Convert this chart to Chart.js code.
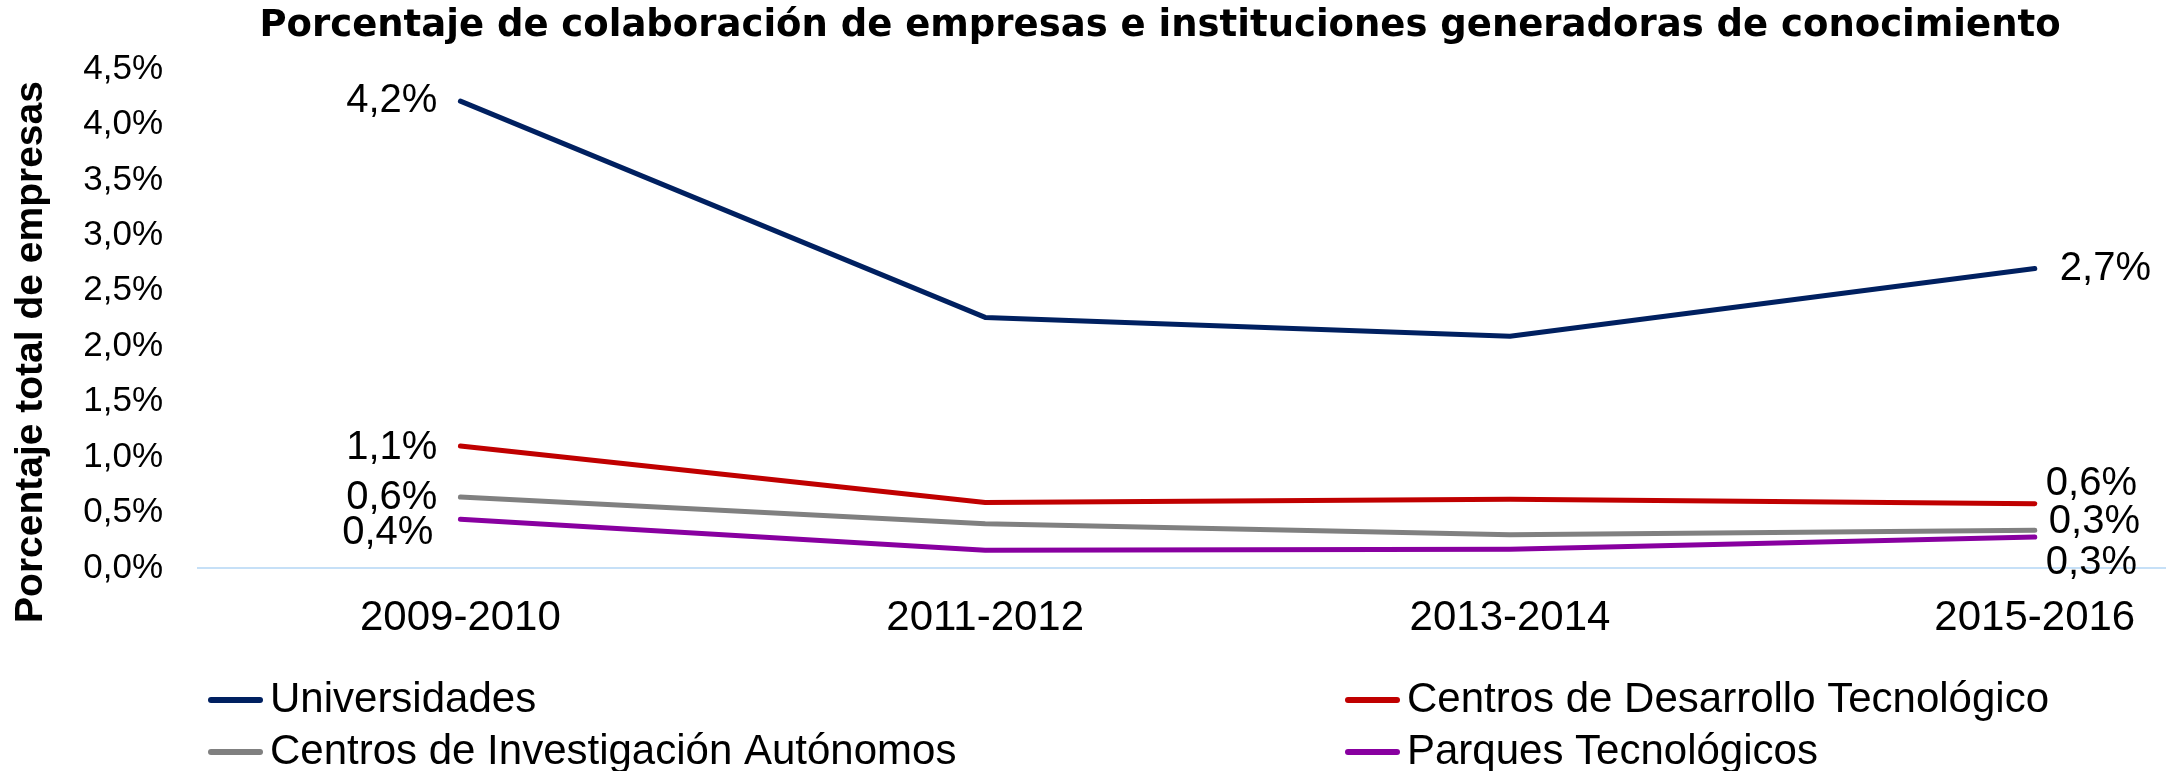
<!DOCTYPE html>
<html lang="es">
<head>
<meta charset="utf-8">
<title>Porcentaje de colaboración de empresas e instituciones generadoras de conocimiento</title>
<script src="https://cdn.jsdelivr.net/npm/chart.js@4.4.1/dist/chart.umd.min.js"></script>
<style>
  html, body { margin: 0; padding: 0; background: #ffffff; }
  #chart { display: block; }
</style>
</head>
<body>
<canvas id="chart" width="2166" height="771"></canvas>
<script>
// Periodos del eje X
const periodos = ['2009-2010', '2011-2012', '2013-2014', '2015-2016'];

// Porcentaje del total de empresas, por tipo de institución
const universidades = [4.21, 2.26, 2.09, 2.70];
const centrosDesarrollo = [1.10, 0.59, 0.62, 0.58];
const centrosInvestigacion = [0.64, 0.40, 0.30, 0.34];
const parquesTecnologicos = [0.44, 0.16, 0.17, 0.28];

// Nombres de las series (mismo orden que los arrays)
const nombresSeries = [
    'Universidades',
    'Centros de Desarrollo Tecnológico',
    'Centros de Investigación Autónomos',
    'Parques Tecnológicos'
];

// Marcas del eje Y
const ticksY = [0, 0.5, 1, 1.5, 2, 2.5, 3, 3.5, 4, 4.5];

const titulo = 'Porcentaje de colaboración de empresas e instituciones generadoras de conocimiento';
const tituloEjeY = 'Porcentaje total de empresas';

const coloresSeries = ['#002060', '#C00000', '#808080', '#8800A0'];
const fuente = '"Liberation Sans", Arial, sans-serif';

// Desplazamiento de las etiquetas de la primera y última marca (como en Excel)
const desplazEtiquetas = [
    { ini: [-23, 0],  fin: [25, 0] },
    { ini: [-23, 2],  fin: [11, -20] },
    { ini: [-23, 1],  fin: [14, -8] },
    { ini: [-27, 14], fin: [11, 26] }
];

function formato(v) {
    return v.toFixed(1).replace('.', ',') + '%';
}

const valoresSeries = [universidades, centrosDesarrollo, centrosInvestigacion, parquesTecnologicos];

// Etiquetas de datos en los extremos de cada línea
const etiquetasPlugin = {
    id: 'etiquetas',
    afterDatasetsDraw(chart) {
        const ctx = chart.ctx;
        ctx.save();
        ctx.font = '40px ' + fuente;
        ctx.fillStyle = '#000000';
        ctx.textBaseline = 'middle';
        chart.data.datasets.forEach((ds, i) => {
            const pts = chart.getDatasetMeta(i).data;
            const vals = valoresSeries[i];
            const d = desplazEtiquetas[i];
            const p0 = pts[0];
            const pN = pts[pts.length - 1];
            ctx.textAlign = 'right';
            ctx.fillText(formato(vals[0]), p0.x + d.ini[0], p0.y + d.ini[1]);
            ctx.textAlign = 'left';
            ctx.fillText(formato(vals[vals.length - 1]), pN.x + d.fin[0], pN.y + d.fin[1]);
        });
        ctx.restore();
    }
};

// Título, título del eje Y y leyenda en dos columnas
const textosPlugin = {
    id: 'textos',
    afterDraw(chart) {
        const ctx = chart.ctx;

        // título (algo desplazado a la derecha, como en el original)
        ctx.save();
        ctx.fillStyle = '#000000';
        ctx.font = 'bold 37px "DejaVu Sans", sans-serif';
        ctx.textAlign = 'center';
        ctx.textBaseline = 'alphabetic';
        ctx.fillText(titulo, 1160, 36);
        ctx.restore();

        // eje Y
        ctx.save();
        ctx.fillStyle = '#000000';
        ctx.font = 'bold 39px ' + fuente;
        ctx.textAlign = 'center';
        ctx.textBaseline = 'middle';
        ctx.translate(31, 352);
        ctx.rotate(-Math.PI / 2);
        ctx.fillText(tituloEjeY, 0, 0);
        ctx.restore();

        // leyenda
        ctx.save();
        ctx.font = '42px ' + fuente;
        ctx.textBaseline = 'middle';
        ctx.textAlign = 'left';
        const colX = [208, 1345];
        const filaY = [700, 752];
        chart.data.datasets.forEach((ds, i) => {
            const x = colX[i % 2];
            const y = filaY[Math.floor(i / 2)];
            ctx.strokeStyle = ds.borderColor;
            ctx.lineWidth = 6;
            ctx.lineCap = 'round';
            ctx.beginPath();
            ctx.moveTo(x + 3, y);
            ctx.lineTo(x + 52, y);
            ctx.stroke();
            ctx.fillStyle = '#000000';
            ctx.fillText(ds.label, x + 62, y);
        });
        ctx.restore();
    }
};

const datasets = valoresSeries.map((vals, i) => ({
    label: nombresSeries[i],
    data: vals.map((v, j) => ({ x: j, y: v })),
    borderColor: coloresSeries[i],
    backgroundColor: coloresSeries[i],
    borderWidth: 5,
    borderCapStyle: 'round',
    borderJoinStyle: 'round',
    pointRadius: 0,
    tension: 0,
    fill: false
}));

new Chart(document.getElementById('chart').getContext('2d'), {
    type: 'line',
    data: { datasets: datasets },
    plugins: [etiquetasPlugin, textosPlugin],
    options: {
        responsive: false,
        animation: false,
        layout: { padding: { left: 0, right: 0, top: 69, bottom: 128 } },
        scales: {
            x: {
                type: 'linear',
                min: -0.5,
                max: 3.25,
                afterBuildTicks: scale => { scale.ticks = periodos.map((_, i) => ({ value: i })); },
                afterFit: scale => { scale.height = 75; },
                grid: { display: false, drawTicks: false },
                border: { display: true, color: '#C6E0F7', width: 2 },
                ticks: {
                    padding: 25,
                    color: '#000000',
                    font: { family: fuente, size: 42 },
                    maxRotation: 0,
                    callback: v => periodos[v]
                }
            },
            y: {
                min: 0,
                max: 4.5,
                afterBuildTicks: scale => { scale.ticks = ticksY.map(v => ({ value: v })); },
                afterFit: scale => { scale.width = 198; },
                grid: { display: false, drawTicks: false },
                border: { display: false },
                ticks: {
                    padding: 35,
                    color: '#000000',
                    font: { family: fuente, size: 35 },
                    callback: v => formato(v)
                }
            }
        },
        plugins: {
            legend: { display: false },
            tooltip: { enabled: false },
            title: { display: false }
        }
    }
});
</script>
</body>
</html>
